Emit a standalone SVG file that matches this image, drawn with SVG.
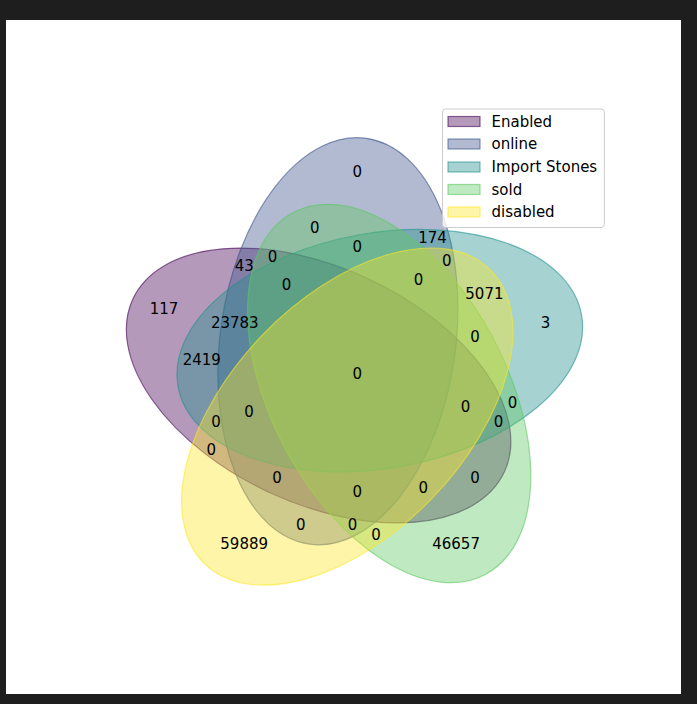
<svg xmlns="http://www.w3.org/2000/svg" width="697" height="704" viewBox="0 0 697 704">
<style>
.lbl{font-family:"DejaVu Sans",sans-serif;font-size:15px;fill:#000;text-anchor:middle}
.leg{font-family:"DejaVu Sans",sans-serif;font-size:15px;fill:#000}
.e{stroke-width:1.2}
.c1{fill:#440154;stroke:#440154;fill-opacity:.4;stroke-opacity:.6}
.c2{fill:#3b528b;stroke:#3b528b;fill-opacity:.4;stroke-opacity:.6}
.c3{fill:#21918c;stroke:#21918c;fill-opacity:.4;stroke-opacity:.6}
.c4{fill:#5ec962;stroke:#5ec962;fill-opacity:.4;stroke-opacity:.6}
.c5{fill:#fde725;stroke:#fde725;fill-opacity:.4;stroke-opacity:.6}
</style>
<rect x="0" y="0" width="697" height="704" fill="#1e1e1e"/>
<rect x="6" y="20" width="675" height="674" fill="#ffffff"/>
<g id="sets">
<g id="set-enabled"><ellipse class="e c1" cx="0" cy="0" rx="204.9" ry="117.75" transform="translate(318.6 385.5) rotate(-155)"/></g>
<g id="set-online"><ellipse class="e c2" cx="0" cy="0" rx="204.9" ry="117.75" transform="translate(337.9 341.2) rotate(-82)"/></g>
<g id="set-import"><ellipse class="e c3" cx="0" cy="0" rx="204.9" ry="117.75" transform="translate(379.8 350.7) rotate(-10)"/></g>
<g id="set-sold"><ellipse class="e c4" cx="0" cy="0" rx="204.9" ry="117.75" transform="translate(389.2 393.5) rotate(-118)"/></g>
<g id="set-disabled"><ellipse class="e c5" cx="0" cy="0" rx="204.9" ry="117.75" transform="translate(347.3 416.6) rotate(-46)"/></g>
</g>
<g id="connectors"></g>
<g id="labels">
<text class="lbl" x="244.2" y="549">59889</text>
<text class="lbl" x="456.1" y="549">46657</text>
<text class="lbl" x="376" y="539.6">0</text>
<text class="lbl" x="545.6" y="327.6">3</text>
<text class="lbl" x="484.4" y="299.4">5071</text>
<text class="lbl" x="512.6" y="407.7">0</text>
<text class="lbl" x="475" y="341.8">0</text>
<text class="lbl" x="357.2" y="176.9">0</text>
<text class="lbl" x="300.7" y="530.2">0</text>
<text class="lbl" x="314.8" y="233.4">0</text>
<text class="lbl" x="352.5" y="530.2">0</text>
<text class="lbl" x="432.6" y="242.8">174</text>
<text class="lbl" x="446.7" y="266.4">0</text>
<text class="lbl" x="357.2" y="252.3">0</text>
<text class="lbl" x="418.4" y="285.2">0</text>
<text class="lbl" x="164.1" y="313.5">117</text>
<text class="lbl" x="211.2" y="454.8">0</text>
<text class="lbl" x="475" y="482.8">0</text>
<text class="lbl" x="423.2" y="492.5">0</text>
<text class="lbl" x="201.8" y="365.3">2419</text>
<text class="lbl" x="215.9" y="426.5">0</text>
<text class="lbl" x="498.5" y="426.5">0</text>
<text class="lbl" x="465.5" y="412.4">0</text>
<text class="lbl" x="244.2" y="271.1">43</text>
<text class="lbl" x="277.1" y="483">0</text>
<text class="lbl" x="272.4" y="261.7">0</text>
<text class="lbl" x="357.2" y="497.2">0</text>
<text class="lbl" x="234.8" y="327.6">23783</text>
<text class="lbl" x="248.9" y="417.1">0</text>
<text class="lbl" x="286.6" y="289.9">0</text>
<text class="lbl" x="357.2" y="379.4">0</text>
</g>
<g id="legend">
<rect x="442.5" y="109" width="161.8" height="118.5" rx="3" fill="#ffffff" fill-opacity="0.8" stroke="#cccccc" stroke-width="1"/>
<rect class="c1" x="448" y="116.5" width="32" height="10" stroke-width="1.2"/>
<text class="leg" x="491.5" y="126.6">Enabled</text>
<rect class="c2" x="448" y="139" width="32" height="10" stroke-width="1.2"/>
<text class="leg" x="491.5" y="149.3">online</text>
<rect class="c3" x="448" y="162" width="32" height="10" stroke-width="1.2"/>
<text class="leg" x="491.5" y="172.3">Import Stones</text>
<rect class="c4" x="448" y="184.5" width="32" height="10" stroke-width="1.2"/>
<text class="leg" x="491.5" y="194.8">sold</text>
<rect class="c5" x="448" y="207" width="32" height="10" stroke-width="1.2"/>
<text class="leg" x="491.5" y="217.3">disabled</text>
</g>
</svg>
